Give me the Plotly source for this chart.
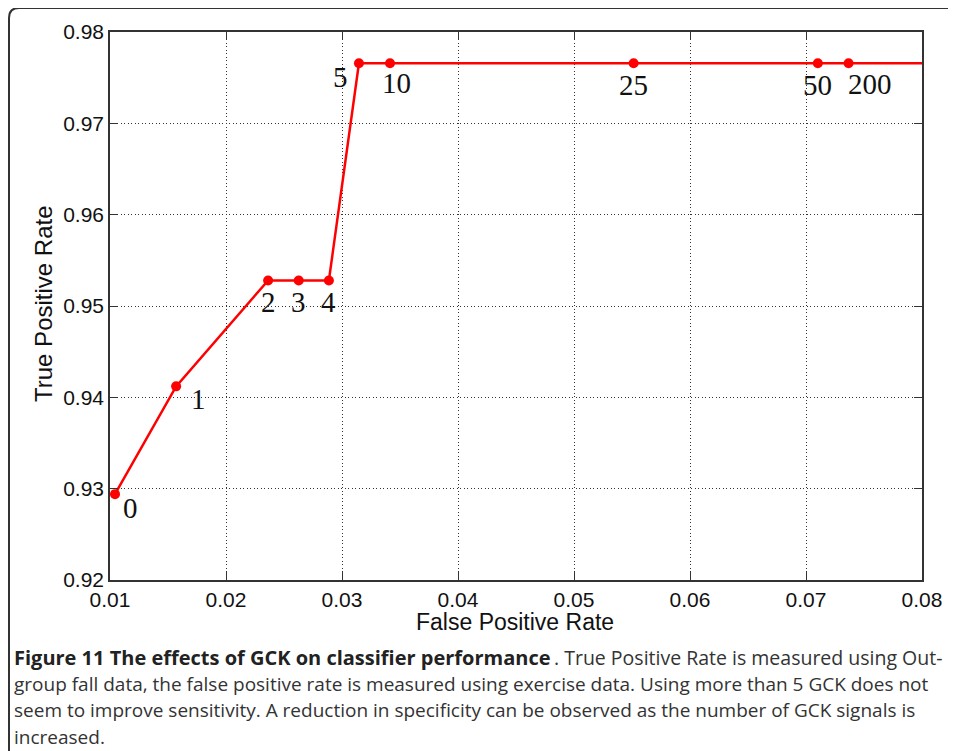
import plotly.graph_objects as go

# ---- data ----
gck_labels = ["0", "1", "2", "3", "4", "5", "10", "25", "50", "200"]
fpr = [0.01043, 0.01570, 0.02363, 0.02627, 0.02887, 0.03146, 0.03414, 0.05514, 0.07102, 0.07367]
tpr = [0.9294, 0.9412, 0.9528, 0.9528, 0.9528, 0.97657, 0.97657, 0.97657, 0.97657, 0.97657]
line_end_fpr = 0.08  # the plateau continues to the right edge

x_ticks = [0.01, 0.02, 0.03, 0.04, 0.05, 0.06, 0.07, 0.08]
y_ticks = [0.92, 0.93, 0.94, 0.95, 0.96, 0.97, 0.98]

caption_bold = "Figure 11 The effects of GCK on classifier performance"
caption_first_rest = ". True Positive Rate is measured using Out-"
caption_lines = [
    "group fall data, the false positive rate is measured using exercise data. Using more than 5 GCK does not",
    "seem to improve sensitivity. A reduction in specificity can be observed as the number of GCK signals is",
    "increased.",
]

# label offsets (pixels) per point
label_dx = [16, 22, 0, 0, 0, -18, 6, 0, 0, 21]
label_dy = [-14, -13, -22, -22, -22, -14, -20, -22, -22, -21]

OFF = 8  # page body margin
W, H = 956 - OFF, 751 - OFF
L, T = 110 - OFF, 32 - OFF
pw, ph = 812, 548
R, B = W - L - pw, H - T - ph


def px(x):  # reference page pixel -> paper x
    return (x - OFF - L) / pw


def py(y):  # reference page pixel -> paper y
    return (T + ph - (y - OFF)) / ph


fig = go.Figure()
fig.add_trace(go.Scatter(
    x=fpr + [line_end_fpr], y=tpr + [tpr[-1]],
    mode="lines", line=dict(color="#ff0000", width=2.5),
    hoverinfo="skip", showlegend=False,
))
fig.add_trace(go.Scatter(
    x=fpr, y=tpr, mode="markers",
    marker=dict(color="#ff0000", size=10),
    showlegend=False, cliponaxis=False,
))

annotations = []
for lab, x, y, dx, dy in zip(gck_labels, fpr, tpr, label_dx, label_dy):
    annotations.append(dict(
        x=x, y=y, xref="x", yref="y", text=lab, showarrow=False,
        xshift=dx, yshift=dy,
        font=dict(family="Liberation Serif, Times New Roman, serif", size=29, color="#111"),
    ))

cap_font = dict(family="Open Sans, Noto Sans, sans-serif", size=19, color="#333")
cap_bold_font = dict(family="Open Sans, Noto Sans, sans-serif", size=20, color="#222")
line_y = [657, 684, 710, 737]
annotations.append(dict(
    x=px(12), y=py(line_y[0]), xref="paper", yref="paper",
    xanchor="left", yanchor="middle", showarrow=False,
    text="<b>" + caption_bold + "</b>", font=cap_bold_font,
))
annotations.append(dict(
    x=px(944), y=py(line_y[0]), xref="paper", yref="paper",
    xanchor="right", yanchor="middle", showarrow=False,
    text=caption_first_rest, font=dict(cap_font, size=19.5),
))
for ln, yy in zip(caption_lines, line_y[1:]):
    annotations.append(dict(
        x=px(12), y=py(yy), xref="paper", yref="paper",
        xanchor="left", yanchor="middle", showarrow=False,
        text=ln, font=cap_font,
    ))

# axis titles
annotations.append(dict(
    x=px(515), y=py(622), xref="paper", yref="paper", showarrow=False,
    text="False Positive Rate", xanchor="center", yanchor="middle",
    font=dict(family="Liberation Sans, Arial, sans-serif", size=23, color="#111"),
))
annotations.append(dict(
    x=px(43), y=py(304), xref="paper", yref="paper", showarrow=False,
    text="True Positive Rate", textangle=-90, xanchor="center", yanchor="middle",
    font=dict(family="Liberation Sans, Arial, sans-serif", size=24, color="#111"),
))

# outer figure border with rounded top-left corner
r = 10
x0, y0, x1, yb = 9, 8, 960, 760
path = (f"M {px(x0)},{py(yb)} L {px(x0)},{py(y0 + r)} "
        f"Q {px(x0)},{py(y0)} {px(x0 + r)},{py(y0)} L {px(x1)},{py(y0)}")

axis_common = dict(
    showline=True, linecolor="#333", linewidth=1.5, mirror="ticks",
    ticks="inside", ticklen=8, tickcolor="#333", tickwidth=1,
    showgrid=True, gridcolor="#333", griddash="1px,2.5px", gridwidth=1,
    zeroline=False, tickformat=".2f",
    tickfont=dict(family="Liberation Sans, Arial, sans-serif", size=21, color="#111"),
)

fig.update_layout(
    width=W, height=H,
    margin=dict(l=L, r=R, t=T, b=B, pad=0),
    paper_bgcolor="white", plot_bgcolor="white",
    xaxis=dict(range=[0.01, 0.08], tickvals=x_ticks, **axis_common),
    yaxis=dict(range=[0.92, 0.98], tickvals=y_ticks, **axis_common),
    annotations=annotations,
    shapes=[dict(type="path", path=path, xref="paper", yref="paper",
                 line=dict(color="#333", width=2), layer="above")],
    showlegend=False,
)

fig.write_html("out.html")
